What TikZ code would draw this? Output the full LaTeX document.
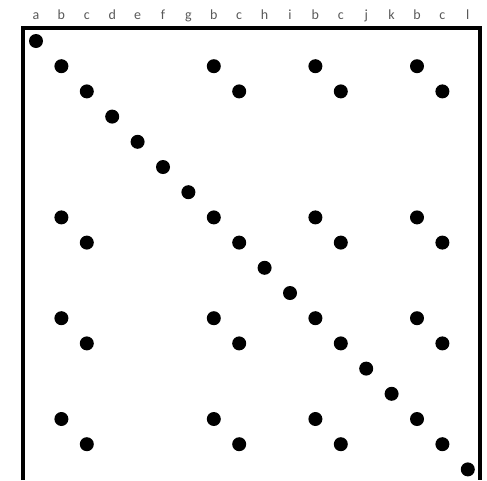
\documentclass[tikz,border=0pt]{standalone}
\usepackage{fontspec}
\setsansfont{Carlito}
\usetikzlibrary{positioning}

\begin{document}
\begin{tikzpicture}[
    x=1pt, y=-1pt,
    dot/.style={circle, fill=black, inner sep=0pt, minimum size=14pt},
    collabel/.style={font=\sffamily\fontsize{14}{14}\selectfont, text=black!65, anchor=base},
    frame/.style={line width=3.4pt}
]
\useasboundingbox (0,0) rectangle (487,480);
% column labels
\foreach \l [count=\i] in {a,b,c,d,e,f,g,b,c,h,i,b,c,j,k,b,c,l}
  \node[collabel] (lab\i) at ({36+25.4*(\i-1)}, 19) {\l};
% frame, open at the bottom
\coordinate (bl) at (23,480);
\coordinate (tl) at (23,28);
\coordinate (tr) at (480,28);
\coordinate (br) at (480,480);
\draw[frame] (bl) -- (tl) -- (tr) -- (br);
% diagonal
\foreach \i in {1,...,18}
  \node[dot] (d\i-\i) at ({36+25.4*(\i-1)}, {41+25.2*(\i-1)}) {};
% repeated b and c
\foreach \i in {2,8,12,16}{
  \foreach \j in {2,8,12,16}{
    \ifnum\i=\j\relax\else
      \node[dot] (d\i-\j) at ({36+25.4*(\j-1)}, {41+25.2*(\i-1)}) {};
    \fi
  }
}
\foreach \i in {3,9,13,17}{
  \foreach \j in {3,9,13,17}{
    \ifnum\i=\j\relax\else
      \node[dot] (d\i-\j) at ({36+25.4*(\j-1)}, {41+25.2*(\i-1)}) {};
    \fi
  }
}
\end{tikzpicture}
\end{document}
